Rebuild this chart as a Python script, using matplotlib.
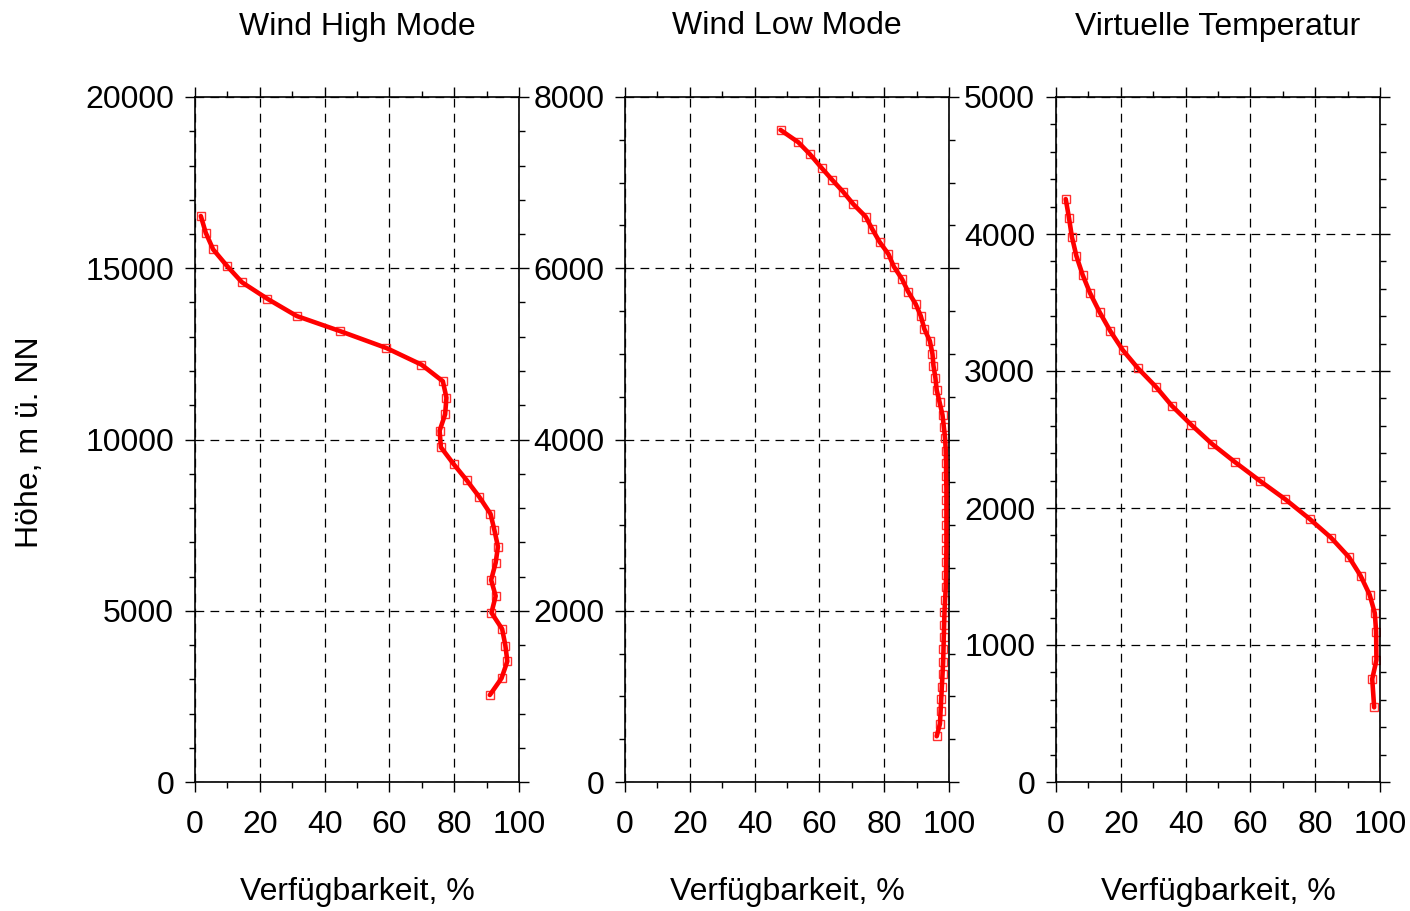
import numpy as np
import matplotlib
matplotlib.use("Agg")
import matplotlib.pyplot as plt
from matplotlib.ticker import MultipleLocator

plt.rcParams["font.family"] = ["Liberation Sans", "DejaVu Sans"]

# ------------------------------------------------------------------
# Data (Verfügbarkeit in %, Höhe in m ü. NN)
# ------------------------------------------------------------------
high_avail = [1.8, 3.3, 5.6, 9.9, 14.5, 22.3, 31.4, 44.9, 59.1, 69.9, 76.5,
              77.6, 77.2, 75.5, 75.9, 79.8, 83.8, 87.7, 91.2, 92.4, 93.5,
              92.8, 91.4, 92.8, 91.5, 94.8, 95.8, 96.4, 94.6, 91.0]
high_alt = [16525, 16040, 15550, 15065, 14590, 14110, 13605, 13160, 12670,
            12185, 11700, 11220, 10735, 10257, 9773, 9285, 8818, 8330, 7830,
            7358, 6870, 6403, 5898, 5430, 4943, 4467, 3980, 3524, 3028, 2540]

low_avail = [48.0, 53.5, 57.1, 60.7, 63.9, 67.3, 70.5, 74.3, 76.3, 78.6,
             81.3, 83.0, 85.5, 87.4, 89.7, 91.3, 92.4, 94.1, 94.9, 95.2,
             95.8, 96.2, 97.1, 98.0, 98.4, 98.8,
             99.0, 99.1, 99.1, 99.2, 99.2, 99.2, 99.2, 99.2, 99.2, 99.1,
             99.1, 99.0, 98.8, 98.6, 98.5, 98.4, 98.3, 98.2, 98.0, 97.8,
             97.6, 97.4, 97.2, 96.2]
low_alt = [7615, 7471, 7331, 7171, 7034, 6894, 6747, 6602, 6458, 6306,
           6166, 6018, 5874, 5726, 5583, 5442, 5290, 5150, 4999, 4862,
           4722, 4578, 4434, 4286, 4150, 4014,
           3869, 3724, 3579, 3434, 3289, 3144, 2999, 2854, 2709, 2564,
           2419, 2274, 2129, 1984, 1839, 1694, 1549, 1404, 1259, 1114,
           969, 824, 679, 534]

tv_avail = [3.0, 4.0, 4.9, 6.3, 8.2, 10.5, 13.5, 16.8, 20.6, 25.3, 30.9,
            35.8, 41.8, 48.1, 55.3, 63.0, 70.8, 78.4, 84.9, 90.4, 94.0,
            96.8, 98.4, 98.8, 98.9, 97.6, 98.2]
tv_alt = [4255, 4119, 3980, 3839, 3703, 3569, 3428, 3290, 3153, 3020, 2883,
          2745, 2606, 2469, 2334, 2197, 2063, 1918, 1783, 1642, 1506,
          1367, 1232, 1097, 890, 752, 545]

titles = ["Wind High Mode", "Wind Low Mode", "Virtuelle Temperatur"]
y_max = [20000, 8000, 5000]
y_major = [5000, 2000, 1000]
y_minor = [1000, 500, 200]

series = [(high_avail, high_alt), (low_avail, low_alt), (tv_avail, tv_alt)]

# ------------------------------------------------------------------
# Figure
# ------------------------------------------------------------------
fig = plt.figure(figsize=(14.1, 9.11), dpi=100)
lefts = [195 / 1410, 625 / 1410, 1056 / 1410]
width = 324 / 1410
bottom = 1 - 782 / 911
height = 685 / 911

FS = 23
for i, (x, y) in enumerate(series):
    ax = fig.add_axes([lefts[i], bottom, width, height])
    ax.plot(x, y, ls="none", marker="s", ms=6, mfc="none", mec="#ff3030",
            mew=1.0, zorder=2)
    ax.plot(x, y, color="#ff0000", lw=3.3, zorder=3,
            solid_joinstyle="round", solid_capstyle="round")

    ax.set_xlim(0, 100)
    ax.set_ylim(0, y_max[i])
    ax.xaxis.set_major_locator(MultipleLocator(20))
    ax.xaxis.set_minor_locator(MultipleLocator(10))
    ax.yaxis.set_major_locator(MultipleLocator(y_major[i]))
    ax.yaxis.set_minor_locator(MultipleLocator(y_minor[i]))

    ax.tick_params(which="both", direction="out", top=True, right=True,
                   width=1.0, colors="k")
    ax.tick_params(which="major", length=7, labelsize=FS)
    ax.tick_params(which="minor", length=4)
    ax.tick_params(axis="x", pad=13)
    ax.tick_params(axis="y", pad=8)

    ax.grid(True, which="major", color="k", lw=0.9, ls=(0, (7, 5)))
    for s in ax.spines.values():
        s.set_linewidth(1.2)

    ax.set_title(titles[i], fontsize=FS, pad=45)
    ax.set_xlabel("Verfügbarkeit, %", fontsize=FS, labelpad=27)

fig.text(30 / 1410, 1 - 442 / 911, "Höhe, m ü. NN", rotation=90,
         fontsize=FS, ha="center", va="center")

fig.savefig("out.png", dpi=100)
